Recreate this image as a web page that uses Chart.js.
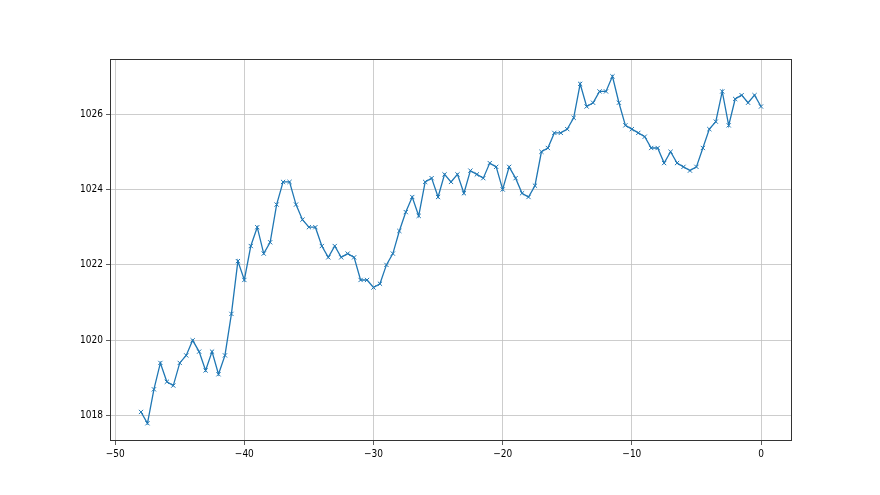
<!DOCTYPE html>
<html>
<head>
<meta charset="utf-8">
<script src="https://cdn.jsdelivr.net/npm/chart.js@4.4.0/dist/chart.umd.min.js"></script>
<style>
  html, body { margin: 0; padding: 0; background: #fff; }
  canvas { display: block; }
</style>
</head>
<body>
<canvas id="pressureChart" width="880" height="495"></canvas>
<script>
// hours relative to now
const offsets = [
  -48, -47.5, -47, -46.5, -46, -45.5, -45, -44.5, -44, -43.5,
  -43, -42.5, -42, -41.5, -41, -40.5, -40, -39.5, -39, -38.5,
  -38, -37.5, -37, -36.5, -36, -35.5, -35, -34.5, -34, -33.5,
  -33, -32.5, -32, -31.5, -31, -30.5, -30, -29.5, -29, -28.5,
  -28, -27.5, -27, -26.5, -26, -25.5, -25, -24.5, -24, -23.5,
  -23, -22.5, -22, -21.5, -21, -20.5, -20, -19.5, -19, -18.5,
  -18, -17.5, -17, -16.5, -16, -15.5, -15, -14.5, -14, -13.5,
  -13, -12.5, -12, -11.5, -11, -10.5, -10, -9.5, -9, -8.5,
  -8, -7.5, -7, -6.5, -6, -5.5, -5, -4.5, -4, -3.5,
  -3, -2.5, -2, -1.5, -1, -0.5, 0
];

const pressure = [
  1018.1, 1017.8, 1018.7, 1019.4, 1018.9, 1018.8, 1019.4, 1019.6, 1020.0, 1019.7,
  1019.2, 1019.7, 1019.1, 1019.6, 1020.7, 1022.1, 1021.6, 1022.5, 1023.0, 1022.3,
  1022.6, 1023.6, 1024.2, 1024.2, 1023.6, 1023.2, 1023.0, 1023.0, 1022.5, 1022.2,
  1022.5, 1022.2, 1022.3, 1022.2, 1021.6, 1021.6, 1021.4, 1021.5, 1022.0, 1022.3,
  1022.9, 1023.4, 1023.8, 1023.3, 1024.2, 1024.3, 1023.8, 1024.4, 1024.2, 1024.4,
  1023.9, 1024.5, 1024.4, 1024.3, 1024.7, 1024.6, 1024.0, 1024.6, 1024.3, 1023.9,
  1023.8, 1024.1, 1025.0, 1025.1, 1025.5, 1025.5, 1025.6, 1025.9, 1026.8, 1026.2,
  1026.3, 1026.6, 1026.6, 1027.0, 1026.3, 1025.7, 1025.6, 1025.5, 1025.4, 1025.1,
  1025.1, 1024.7, 1025.0, 1024.7, 1024.6, 1024.5, 1024.6, 1025.1, 1025.6, 1025.8,
  1026.6, 1025.7, 1026.4, 1026.5, 1026.3, 1026.5, 1026.2
];

const xTicks = [-50, -40, -30, -20, -10, 0];
const yTicks = [1018, 1020, 1022, 1024, 1026];

const FONT = "'Liberation Sans Narrow', 'DejaVu Sans Condensed', 'DejaVu Sans', sans-serif";

// draw all four spines like matplotlib
const frameBox = {
    id: 'frameBox',
    afterDraw(chart) {
        const { ctx, chartArea: a } = chart;
        ctx.save();
        ctx.strokeStyle = '#333';
        ctx.lineWidth = 1;
        ctx.strokeRect(a.left + 0.5, a.top + 0.5, a.right - a.left - 1, a.bottom - a.top - 1);
        ctx.restore();
    }
};

const minus = v => String(v).replace('-', '\u2212');

new Chart(document.getElementById('pressureChart'), {
    type: 'line',
    data: {
        datasets: [{
            data: offsets.map((x, i) => ({ x, y: pressure[i] })),
            borderColor: '#1f77b4',
            backgroundColor: '#1f77b4',
            borderWidth: 1.3,
            pointStyle: 'crossRot',
            pointRadius: 3,
            pointBorderWidth: 1,
            pointBorderColor: '#1f77b4',
            tension: 0,
            fill: false
        }]
    },
    options: {
        responsive: false,
        animation: false,
        layout: { padding: { top: 59, right: 88, left: 0, bottom: 0 } },
        plugins: {
            legend: { display: false },
            tooltip: { enabled: false }
        },
        scales: {
            x: {
                type: 'linear',
                min: -50.4,
                max: 2.4,
                afterBuildTicks: s => { s.ticks = xTicks.map(v => ({ value: v })); },
                afterFit: s => { s.height = 54; },
                grid: { color: '#c0c0c0', lineWidth: 0.8, tickLength: 4, tickColor: '#333' },
                border: { display: false },
                ticks: {
                    color: '#000',
                    padding: 3,
                    maxRotation: 0,
                    font: { family: FONT, size: 10 },
                    callback: v => minus(v)
                }
            },
            y: {
                min: 1017.33,
                max: 1027.46,
                afterBuildTicks: s => { s.ticks = yTicks.map(v => ({ value: v })); },
                afterFit: s => { s.width = 110; },
                grid: { color: '#c0c0c0', lineWidth: 0.8, tickLength: 4, tickColor: '#333' },
                border: { display: false },
                ticks: {
                    color: '#000',
                    padding: 3,
                    font: { family: FONT, size: 10 },
                    callback: v => String(v)
                }
            }
        }
    },
    plugins: [frameBox]
});
</script>
</body>
</html>
